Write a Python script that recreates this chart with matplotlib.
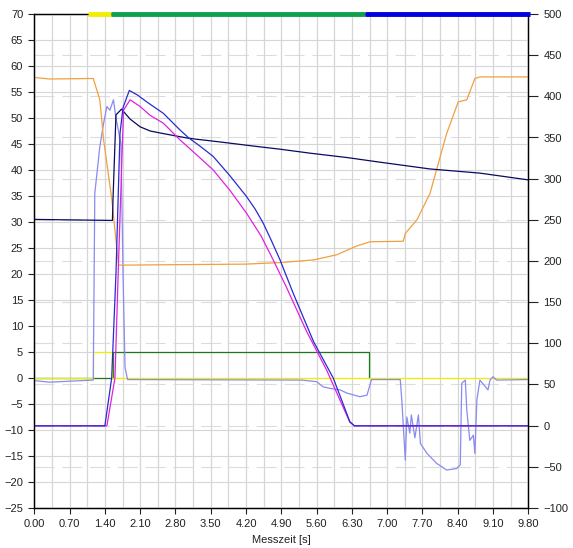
import matplotlib.pyplot as plt
import numpy as np

plt.rcParams["font.family"] = ["Liberation Sans", "DejaVu Sans"]

# time axis [s] and left-axis values
t_orange = [0, 0.3, 1.17, 1.30, 1.375, 1.54, 1.67, 2.89, 4.2, 4.875, 5.54, 6.0, 6.4, 6.66, 7.32, 7.36, 7.59, 7.85, 8.18, 8.41, 8.58, 8.74, 8.84, 9.8]
v_orange = [57.8, 57.5, 57.6, 53.5, 45.8, 34.2, 21.7, 21.8, 21.9, 22.2, 22.7, 23.7, 25.4, 26.2, 26.3, 27.8, 30.4, 35.5, 47.0, 53.1, 53.5, 57.6, 57.9, 57.9]

t_navy = [0, 1.55, 1.56, 1.62, 1.73, 1.9, 2.1, 2.3, 2.56, 3.06, 3.68, 4.35, 4.875, 5.5, 6.2, 6.86, 7.85, 8.84, 9.8]
v_navy = [30.5, 30.3, 34.0, 50.6, 51.7, 49.8, 48.3, 47.5, 47.0, 46.1, 45.4, 44.6, 44.0, 43.2, 42.4, 41.5, 40.2, 39.4, 38.1]

t_blue = [0, 1.40, 1.535, 1.62, 1.70, 1.76, 1.885, 2.05, 2.23, 2.56, 2.89, 3.06, 3.3, 3.55, 3.88, 4.21, 4.38, 4.54, 4.7, 4.875, 5.14, 5.54, 5.93, 6.26, 6.35, 9.8]
v_blue = [-9.2, -9.2, 0.0, 20.0, 47.0, 52.0, 55.3, 54.4, 53.1, 50.9, 47.7, 46.2, 44.5, 42.6, 38.9, 34.9, 32.5, 29.8, 26.5, 22.7, 16.2, 7.0, 0.0, -8.4, -9.2, -9.2]

t_magenta = [0, 1.44, 1.60, 1.68, 1.77, 1.9, 2.1, 2.3, 2.56, 2.89, 3.2, 3.55, 3.88, 4.21, 4.5, 4.75, 5.0, 5.4, 5.8, 6.26, 6.35, 9.8]
v_magenta = [-9.2, -9.2, 0.0, 25.0, 51.5, 53.5, 52.2, 50.5, 49.0, 45.8, 43.1, 40.0, 36.1, 31.7, 27.3, 22.5, 17.5, 9.0, 1.5, -8.5, -9.2, -9.2]

t_light = [0, 0.3, 1.17, 1.2, 1.3, 1.375, 1.44, 1.5, 1.57, 1.62, 1.72, 1.76, 1.80, 1.85, 5.3, 5.6, 5.73, 5.87, 6.07, 6.2, 6.46, 6.6, 6.69,
           7.26, 7.29, 7.36, 7.39, 7.45, 7.48, 7.55, 7.62, 7.66, 7.79, 7.98, 8.18, 8.38, 8.45, 8.48, 8.55, 8.58, 8.64, 8.71, 8.74, 8.78,
           8.84, 9.0, 9.04, 9.1, 9.17, 9.8]
v_light = [-0.5, -0.8, -0.4, 35.5, 44.5, 49.0, 52.2, 51.5, 53.5, 50.0, 45.0, 20.0, 2.0, -0.3, -0.4, -0.7, -1.7, -2.0, -2.3, -2.9, -3.6, -3.3, -0.3,
           -0.3, -4.2, -15.8, -7.5, -10.6, -7.1, -11.5, -7.1, -12.6, -14.5, -16.4, -17.7, -17.4, -16.7, -1.0, -0.4, -6.2, -12.0, -11.0, -14.5, -4.2,
           -0.4, -2.3, -0.4, 0.25, -0.4, -0.3]

t_yellow = [0, 1.17, 1.17, 1.535, 1.535, 9.8]
v_yellow = [0, 0, 5, 5, 0, 0]

t_green = [0, 1.56, 1.56, 6.63, 6.63]
v_green = [0, 0, 5, 5, 0]

# phase bar along the top edge
phase_start = [1.07, 1.52, 6.56]
phase_end = [1.52, 6.56, 9.83]
phase_color = ["#f2ee00", "#10a050", "#0000e0"]

x_ticks = np.round(np.arange(0, 9.81, 0.70), 2)
left_ticks = np.arange(-25, 71, 5)
right_ticks = np.arange(-100, 501, 50)


def main() -> None:
    fig = plt.figure(figsize=(5.73, 5.48), dpi=100)
    ax = fig.add_axes([34.3 / 573, 40 / 548, 494 / 573, 494 / 548])
    ax2 = ax.twinx()
    ax.set_zorder(ax2.get_zorder() + 1)
    ax.patch.set_visible(False)

    ax.set_xlim(0, 9.8)
    ax.set_ylim(-25, 70)
    ax2.set_ylim(-100, 500)

    ax.set_xticks(x_ticks, labels=[f"{v:.2f}" for v in x_ticks])
    ax.set_xticks(np.arange(0.35, 9.8, 0.70), minor=True)
    ax.set_yticks(left_ticks)
    ax2.set_yticks(right_ticks)

    grid_color = "#d6d6d6"
    ax.grid(True, which="both", axis="x", color=grid_color, linewidth=0.9)
    ax.grid(True, which="major", axis="y", color=grid_color, linewidth=0.8)
    ax2.grid(True, axis="y", color="#dcdcdc", linewidth=0.8, linestyle=(0, (18, 7)))
    ax.tick_params(axis="x", which="minor", length=0)

    for a in (ax, ax2):
        a.tick_params(direction="out", length=4, width=0.8, labelsize=8, colors="#222222", pad=4)
        for side in ("left", "right", "bottom", "top"):
            a.spines[side].set_linewidth(0.9)
            a.spines[side].set_color("black")
    ax2.tick_params(length=7, pad=4)

    lw = 0.9
    ax.plot(t_green, v_green, color="#1a7a1a", linewidth=lw)
    ax.plot(t_yellow, v_yellow, color="#eeee00", linewidth=lw)
    ax.plot(t_light, v_light, color="#8a8af0", linewidth=lw)
    ax.plot(t_orange, v_orange, color="#f0a040", linewidth=lw)
    ax.plot(t_navy, v_navy, color="#0a0a60", linewidth=lw)
    ax.plot(t_magenta, v_magenta, color="#e020e0", linewidth=lw)
    ax.plot(t_blue, v_blue, color="#2a2ad0", linewidth=lw)

    for start, end, color in zip(phase_start, phase_end, phase_color):
        ax.hlines(70, start, end, color=color, linewidth=3.5, clip_on=False, zorder=5)

    ax.set_xlabel("Messzeit [s]", fontsize=8, color="#222222", labelpad=4)

    fig.savefig("out.png", dpi=100)
    plt.close(fig)


if __name__ == "__main__":
    main()
